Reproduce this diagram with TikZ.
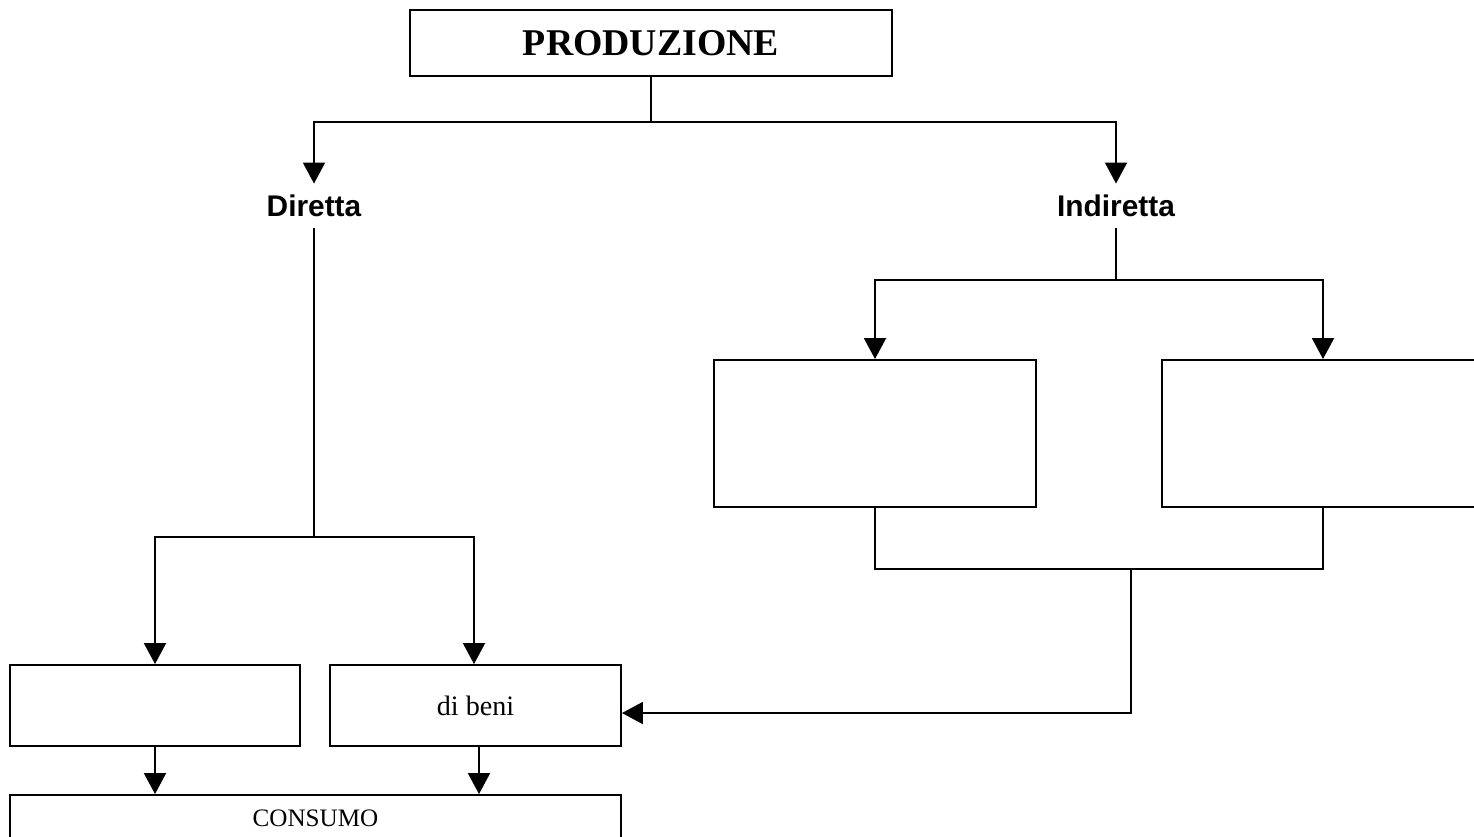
\documentclass[tikz,border=0pt]{standalone}
\usepackage{fontspec}
\setmainfont{Liberation Serif}
\newfontfamily\armfont{Liberation Sans}
\usetikzlibrary{arrows.meta}
\tikzset{
	box/.style={draw, line width=1.1pt, rectangle, inner sep=0pt},
	lbl/.style={font=\armfont\bfseries\fontsize{17}{20}\selectfont, minimum height=0.86cm, inner sep=0pt},
	arr/.style={-{Triangle[width=0.44cm,length=0.42cm]}},
}

\begin{document}
\begin{tikzpicture}[x=0.2mm, y=-0.2mm, line width=1.1pt]
		%%%%% START %%%%%
		\useasboundingbox (0,0) rectangle (1474,836);
		\clip (0,0) rectangle (1474,836);
		
		\node[box, minimum width=9.64cm, minimum height=1.32cm, font=\bfseries\fontsize{21.5}{24}\selectfont] (prod) at (651,43) {PRODUZIONE};
		
		\node[lbl] (dir) at (314,206) {Diretta};
		\node[lbl] (ind) at (1116,206) {Indiretta};
		
		\node[box, minimum width=6.44cm, minimum height=2.94cm] (boxA) at (875,433.5) {};
		\node[box, minimum width=6.44cm, minimum height=2.94cm] (boxB) at (1323,433.5) {};
		
		\node[box, minimum width=5.8cm, minimum height=1.62cm] (boxC) at (155,705.5) {};
		\node[box, minimum width=5.82cm, minimum height=1.62cm, font=\fontsize{16}{18}\selectfont] (boxD) at (475.5,705.5) {di beni};
		
		\node[box, minimum width=12.22cm, minimum height=0.92cm, font=\fontsize{14.3}{16}\selectfont] (cons) at (315.5,818) {CONSUMO};
		
		% PRODUZIONE -> Diretta / Indiretta
		\coordinate (splitP) at (651,122);
		\draw (prod.south) -- (splitP);
		\draw[arr] (splitP) -| (dir.north);
		\draw[arr] (splitP) -| (ind.north);
		
		% Diretta
		\coordinate (splitD) at (314,537);
		\draw (dir.south) -- (splitD);
		\draw[arr] (splitD) -| (boxC.north);
		\draw[arr] (splitD) -| ([xshift=-0.03cm]boxD.north);
		
		% Indiretta
		\coordinate (splitI) at (1116,280);
		\draw (ind.south) -- (splitI);
		\draw[arr] (splitI) -| (boxA.north);
		\draw[arr] (splitI) -| (boxB.north);
		
		\coordinate (mrg) at (1131,569);
		\draw (boxA.south) |- (mrg);
		\draw (boxB.south) |- (mrg);
		\draw[arr] (mrg) |- ([yshift=-0.15cm]boxD.east);
		
		% consumo
		\draw[arr] (boxC.south) -- (boxC.south |- cons.north);
		\draw[arr] ([xshift=0.07cm]boxD.south) -- ([xshift=0.07cm]boxD.south |- cons.north);
		
		%%%%% END %%%%%
	\end{tikzpicture}
\end{document}
